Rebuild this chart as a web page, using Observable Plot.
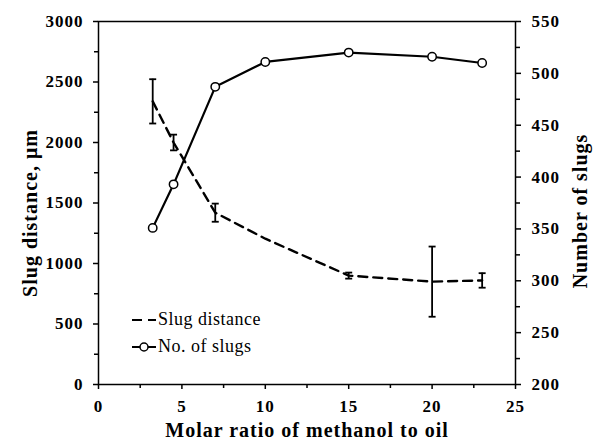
<!DOCTYPE html>
<html><head><meta charset="utf-8">
<script src="https://cdn.jsdelivr.net/npm/d3@7"></script>
<script src="https://cdn.jsdelivr.net/npm/@observablehq/plot@0.6"></script>
<style>
body{margin:0;background:#fff;}
#wrap{position:relative;width:595px;height:444px;overflow:hidden;}
#wrap svg text{font-family:"Liberation Serif",Times,serif;}
#legend{position:absolute;left:131px;top:306px;font-family:"Liberation Serif",Times,serif;font-size:18px;letter-spacing:0.5px;line-height:27px;color:#000;}
#legend div{display:flex;align-items:center;}
#legend svg{margin-right:1px;}
</style></head><body><div id="wrap"></div>
<script>
// Data
const ratio = [3.25, 4.5, 7, 10, 15, 20, 23];
const slugDistance = [2340, 2000, 1420, 1205, 900, 850, 860];
const slugDistanceErr = [183, 65, 75, 0, 25, 290, 60];
const slugCount = [351, 393, 487, 511, 520, 516, 510];
const xTicks = [0, 5, 10, 15, 20, 25];
const xMinorTicks = [2.5, 7.5, 12.5, 17.5, 22.5];
const leftTicks = [0, 500, 1000, 1500, 2000, 2500, 3000];
const leftMinorTicks = [250, 750, 1250, 1750, 2250, 2750];
const rightTicks = [200, 250, 300, 350, 400, 450, 500, 550];
const rightMinorTicks = [225, 275, 325, 375, 425, 475, 525];

const leftDomain = [0, 3000], rightDomain = [200, 550];
const toLeft = v => (v - rightDomain[0]) * (leftDomain[1] - leftDomain[0]) / (rightDomain[1] - rightDomain[0]);
const toRight = v => v * (rightDomain[1] - rightDomain[0]) / (leftDomain[1] - leftDomain[0]) + rightDomain[0];

const rows = ratio.map((x, i) => ({x, d: slugDistance[i], e: slugDistanceErr[i], n: toLeft(slugCount[i])}));
const errRows = rows.filter(d => d.e > 0);

const cap = {draw(ctx, size) { const w = Math.sqrt(size / Math.PI); ctx.moveTo(-w, 0); ctx.lineTo(w, 0); }};

const font = "Liberation Serif";
const chart = Plot.plot({
  width: 595, height: 444,
  marginLeft: 98, marginRight: 80, marginTop: 21, marginBottom: 60,
  style: {fontFamily: font, fontSize: "17px", fontWeight: "bold", color: "#000", background: "#fff", letterSpacing: "1px"},
  x: {domain: [0, 25]},
  y: {domain: leftDomain},
  marks: [
    Plot.axisX({ticks: xTicks, tickFormat: d => String(d), tickSize: 5, tickPadding: 10, label: null, strokeWidth: 1.5, fontFamily: font, fontSize: 17, fontWeight: "bold"}),
    Plot.axisX({ticks: xMinorTicks, tickSize: 4, tickFormat: () => "", label: null, strokeWidth: 1.5}),
    Plot.axisY({ticks: leftTicks, tickFormat: d => String(d), tickSize: 5, tickPadding: 10, label: null, strokeWidth: 1.5, fontFamily: font, fontSize: 17, fontWeight: "bold"}),
    Plot.axisY({ticks: leftMinorTicks, tickSize: 4, tickFormat: () => "", label: null, strokeWidth: 1.5}),
    Plot.axisY({anchor: "right", ticks: rightTicks.map(toLeft), tickFormat: d => String(Math.round(toRight(d))), tickSize: 5, tickPadding: 11, label: null, strokeWidth: 1.5, fontFamily: font, fontSize: 17, fontWeight: "bold"}),
    Plot.axisY({anchor: "right", ticks: rightMinorTicks.map(toLeft), tickFormat: () => "", tickSize: 4, label: null, strokeWidth: 1.5}),
    Plot.frame({stroke: "#000", strokeWidth: 1.5}),
    // Slug distance with error bars
    Plot.line(rows, {x: "x", y: "d", stroke: "#000", strokeWidth: 2.4, strokeDasharray: "9,6"}),
    Plot.ruleX(errRows, {x: "x", y1: d => d.d - d.e, y2: d => d.d + d.e, stroke: "#000", strokeWidth: 1.8}),
    Plot.dot(errRows, {x: "x", y: d => d.d - d.e, symbol: cap, r: 3.5, stroke: "#000", strokeWidth: 1.8}),
    Plot.dot(errRows, {x: "x", y: d => d.d + d.e, symbol: cap, r: 3.5, stroke: "#000", strokeWidth: 1.8}),
    // Number of slugs (right axis)
    Plot.line(rows, {x: "x", y: "n", stroke: "#000", strokeWidth: 2.2}),
    Plot.dot(rows, {x: "x", y: "n", r: 4.2, fill: "#fff", stroke: "#000", strokeWidth: 1.5}),
    // Axis titles
    Plot.text(["Molar ratio of methanol to oil"], {frameAnchor: "bottom", dy: 46, textAnchor: "middle", lineAnchor: "middle", fontSize: 20, fontWeight: "bold", fontFamily: font}),
    Plot.text(["Slug distance, μm"], {frameAnchor: "left", dx: -68, dy: 10, textAnchor: "middle", lineAnchor: "middle", rotate: -90, fontSize: 20, fontWeight: "bold", fontFamily: font}),
    Plot.text(["Number of slugs"], {frameAnchor: "right", dx: 65, dy: 8, textAnchor: "middle", lineAnchor: "middle", rotate: -90, fontSize: 20, fontWeight: "bold", fontFamily: font})
  ]
});
const wrap = document.getElementById("wrap");
wrap.appendChild(chart);
const legend = document.createElement("div");
legend.id = "legend";
legend.innerHTML = `
<div><svg width="26" height="12"><line x1="1" x2="25" y1="6" y2="6" stroke="#000" stroke-width="2.2" stroke-dasharray="10,6"/></svg><span>Slug distance</span></div>
<div><svg width="26" height="12"><line x1="1" x2="25" y1="6" y2="6" stroke="#000" stroke-width="2"/><circle cx="13" cy="6" r="4" fill="#fff" stroke="#000" stroke-width="1.5"/></svg><span>No. of slugs</span></div>`;
wrap.appendChild(legend);
</script>
</body></html>
